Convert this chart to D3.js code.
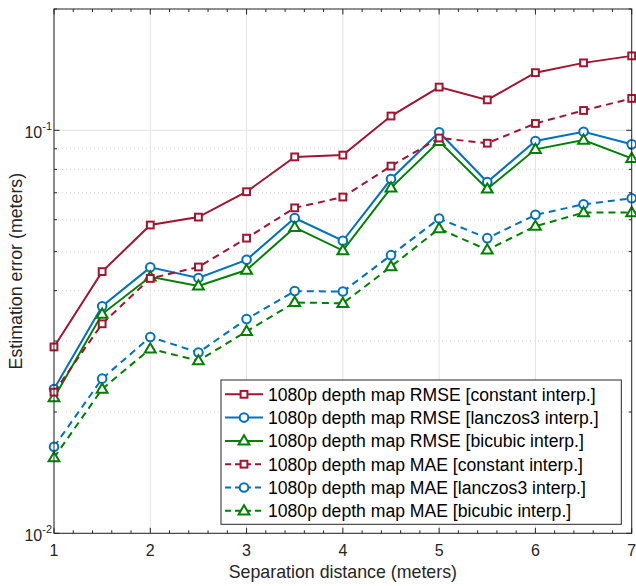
<!DOCTYPE html>
<html><head><meta charset="utf-8">
<script src="https://cdn.jsdelivr.net/npm/d3@7"></script>
<style>body{margin:0;background:#fff}svg{display:block}text{font-family:"Liberation Sans",Arial,Helvetica,sans-serif}</style>
</head><body>
<script>
const xValues = [1,1.5,2,2.5,3,3.5,4,4.5,5,5.5,6,6.5,7];
const rmseConstant = [0.0290,0.0446,0.0582,0.0609,0.0704,0.0859,0.0868,0.1085,0.128,0.119,0.139,0.147,0.153];
const rmseLanczos  = [0.0228,0.0366,0.0457,0.0430,0.0477,0.0606,0.0532,0.0757,0.0989,0.0744,0.0941,0.0992,0.0923];
const rmseBicubic  = [0.0217,0.0350,0.0433,0.0411,0.0450,0.0574,0.0503,0.0720,0.0939,0.0715,0.0897,0.0946,0.0852];
const maeConstant  = [0.0224,0.0331,0.0429,0.0458,0.0540,0.0642,0.0683,0.0815,0.0957,0.0929,0.104,0.112,0.120];
const maeLanczos   = [0.0164,0.0242,0.0307,0.0281,0.0340,0.0399,0.0398,0.0490,0.0604,0.0540,0.0617,0.0655,0.0678];
const maeBicubic   = [0.0154,0.0228,0.0287,0.0268,0.0317,0.0374,0.0372,0.0459,0.0570,0.0505,0.0578,0.0625,0.0625];
const seriesNames = [
  "1080p depth map RMSE [constant interp.]",
  "1080p depth map RMSE [lanczos3 interp.]",
  "1080p depth map RMSE [bicubic interp.]",
  "1080p depth map MAE [constant interp.]",
  "1080p depth map MAE [lanczos3 interp.]",
  "1080p depth map MAE [bicubic interp.]"
];
const xTicks = [1,2,3,4,5,6,7];
const yTicks = [0.01,0.1];
const xLabel = "Separation distance (meters)";
const yLabel = "Estimation error (meters)";

const W=636,H=586;
const L=54,R=631.7,T=9,B=533.3;
const red="#A2142F",blue="#0072BD",green="#008000";
const series=[
 {v:rmseConstant,c:red,m:"square",dash:null},
 {v:rmseLanczos,c:blue,m:"circle",dash:null},
 {v:rmseBicubic,c:green,m:"triangle",dash:null},
 {v:maeConstant,c:red,m:"square",dash:"7,5"},
 {v:maeLanczos,c:blue,m:"circle",dash:"7,5"},
 {v:maeBicubic,c:green,m:"triangle",dash:"7,5"}
];
const svg=d3.select("body").append("svg").attr("width",W).attr("height",H);
const x=d3.scaleLinear().domain([1,7]).range([L,R]);
const y=d3.scaleLog().domain([0.01,0.2]).range([B,T]);

// grid
const minorY=[];for(let d of [0.01,0.1]){for(let k=2;k<=9;k++){const v=d*k;if(v<=0.2)minorY.push(v);}}
const g=svg.append("g");
g.selectAll(".mg").data(minorY).join("line").attr("x1",L).attr("x2",R).attr("y1",d=>y(d)).attr("y2",d=>y(d))
 .attr("stroke","#d6d6d6").attr("stroke-width",1).attr("stroke-dasharray","1,3");
g.selectAll(".gy").data(yTicks).join("line").attr("x1",L).attr("x2",R).attr("y1",d=>y(d)).attr("y2",d=>y(d))
 .attr("stroke","#e3e3e3").attr("stroke-width",1);
g.selectAll(".gx").data(xTicks).join("line").attr("x1",d=>x(d)).attr("x2",d=>x(d)).attr("y1",T).attr("y2",B)
 .attr("stroke","#e3e3e3").attr("stroke-width",1);

// series
const line=d3.line().x((d,i)=>x(xValues[i])).y(d=>y(d));
function marker(sel,type,c){
  if(type==="square") sel.append("rect").attr("x",-3.4).attr("y",-3.4).attr("width",6.8).attr("height",6.8);
  else if(type==="circle") sel.append("circle").attr("r",4.3);
  else sel.append("path").attr("d","M0,-5.6L5.4,3.6L-5.4,3.6Z");
  sel.selectAll("*").attr("fill","#fff").attr("stroke",c).attr("stroke-width",2);
}
series.forEach(s=>{
  svg.append("path").datum(s.v).attr("d",line).attr("fill","none").attr("stroke",s.c).attr("stroke-width",2)
    .attr("stroke-dasharray",s.dash);
  svg.append("g").selectAll("g").data(s.v).join("g")
    .attr("transform",(d,i)=>`translate(${x(xValues[i])},${y(d)})`)
    .each(function(){marker(d3.select(this),s.m,s.c);});
});

// axes box and ticks
const ax=svg.append("g").attr("stroke","#262626").attr("stroke-width",1);
ax.append("rect").attr("x",L).attr("y",T).attr("width",R-L).attr("height",B-T).attr("fill","none");
const xMinor=d3.range(1,7.001,0.2);
xMinor.forEach(v=>{
  const major=Math.abs(v-Math.round(v))<1e-6;const len=major?5.5:3;
  ax.append("line").attr("x1",x(v)).attr("x2",x(v)).attr("y1",B).attr("y2",B-len);
  ax.append("line").attr("x1",x(v)).attr("x2",x(v)).attr("y1",T).attr("y2",T+len);
});
minorY.concat(yTicks).forEach(v=>{
  const major=yTicks.includes(v);const len=major?5.5:3;
  ax.append("line").attr("x1",L).attr("x2",L+len).attr("y1",y(v)).attr("y2",y(v));
  ax.append("line").attr("x1",R).attr("x2",R-len).attr("y1",y(v)).attr("y2",y(v));
});
// tick labels
svg.selectAll(".xt").data(xTicks).join("text").attr("x",d=>x(d)).attr("y",B+22.5).attr("text-anchor","middle")
 .attr("font-size",16).attr("fill","#262626").text(d=>d);
svg.selectAll(".yt").data(yTicks).join("text").attr("x",L-2).attr("y",d=>y(d)+8).attr("text-anchor","end")
 .attr("font-size",16).attr("fill","#262626")
 .each(function(d){const t=d3.select(this);t.append("tspan").text("10");
   t.append("tspan").attr("dy",-8).attr("font-size",11).text(String(Math.round(Math.log10(d))));});
svg.append("text").attr("x",(L+R)/2).attr("y",578).attr("text-anchor","middle").attr("font-size",17.8)
 .attr("fill","#262626").text(xLabel);
svg.append("text").attr("transform",`translate(22,${(T+B)/2}) rotate(-90)`).attr("text-anchor","middle")
 .attr("font-size",17.8).attr("fill","#262626").text(yLabel);

// legend
const lg=svg.append("g");
lg.append("rect").attr("x",221).attr("y",380).attr("width",400.3).attr("height",144.3).attr("fill","#fff")
 .attr("stroke","#262626").attr("stroke-width",1);
series.forEach((s,i)=>{
  const yy=394.3+i*23.3;
  lg.append("line").attr("x1",225).attr("x2",263).attr("y1",yy).attr("y2",yy).attr("stroke",s.c).attr("stroke-width",2)
   .attr("stroke-dasharray",s.dash?"6,4":null);
  const mg=lg.append("g").attr("transform",`translate(244,${yy})`);marker(mg,s.m,s.c);
  lg.append("text").attr("x",268).attr("y",yy+6.5).attr("font-size",17.6).attr("fill","#000").text(seriesNames[i]);
});
</script>
</body></html>
